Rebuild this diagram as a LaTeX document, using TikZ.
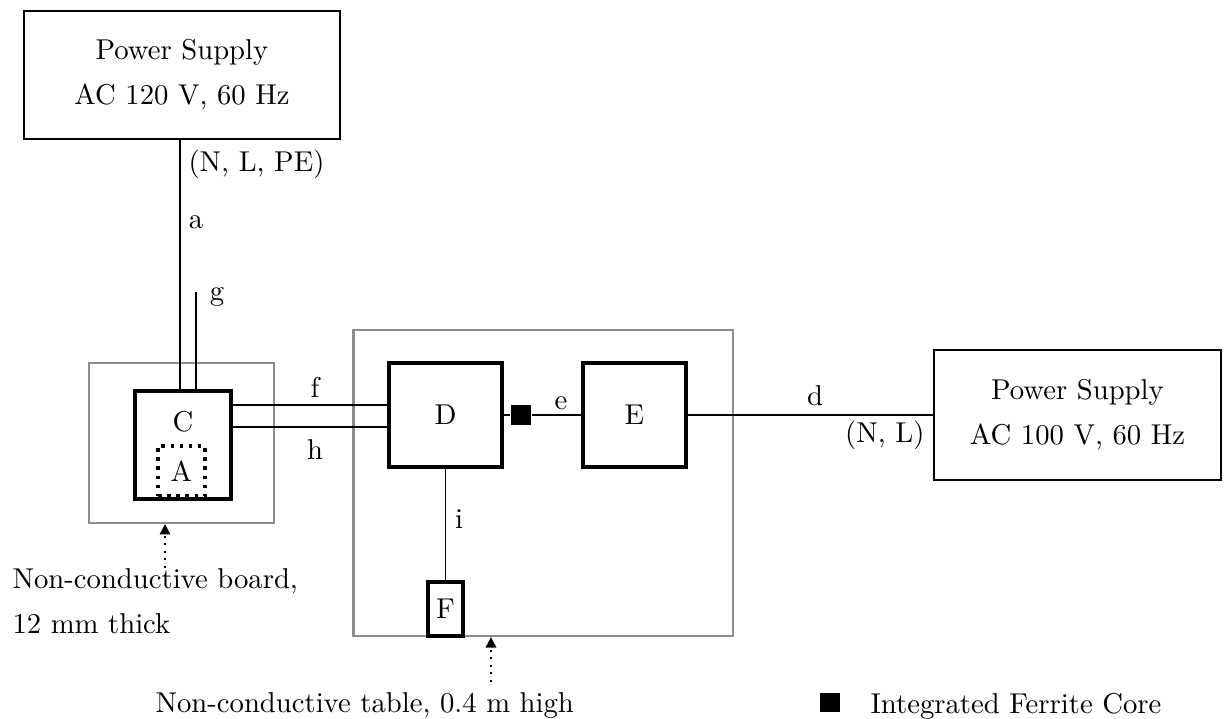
\documentclass[tikz,border=0pt]{standalone}
\usepackage{xcolor}
\usepackage{tikz}
\usetikzlibrary{positioning, arrows.meta, calc}
\definecolor{boardgray}{HTML}{8C8C8C}
\tikzset{
  supply/.style={
    draw, 
    line width=0.7pt,
    align=center,
    font=\fontsize{10.2}{16}\selectfont,
    inner sep=0pt
  },
  unit/.style={
    draw, 
    line width=1.25pt,
    font=\fontsize{10.2}{12}\selectfont,
    inner sep=0pt
  },
  support/.style={draw=boardgray, line width=0.75pt, inner sep=0pt},
  cable/.style={line width=0.7pt},
  ferrite/.style={fill=black, minimum size=0.25cm, inner sep=0pt},
  lbl/.style={font=\fontsize{10.2}{16}\selectfont, inner sep=0pt, anchor=base},
  pointer/.style={-{Triangle[length=1.3mm, width=1.3mm]}, dotted, line width=0.7pt}
}

\begin{document}
\begin{tikzpicture}[x=0.0125cm, y=-0.0125cm]
  \useasboundingbox (0,0) rectangle (1224,718);

  % boards under the equipment
  \node[support, minimum width=2.3125cm, minimum height=2cm] (board) at (181.5,443) {};
  \node[support, minimum width=4.7375cm, minimum height=3.825cm] (table) at (543,483) {};

  % supplies
  \node[supply, minimum width=3.95cm, minimum height=1.6cm] (psA) at (182,75) {Power Supply\\AC 120 V, 60 Hz};
  \node[supply, minimum width=3.5875cm, minimum height=1.625cm] (psB) at (1077.5,415) {Power Supply\\AC 100 V, 60 Hz};

  % units
  \node[unit, minimum width=1.2cm, minimum height=1.35cm] (C) at (183,445) {};
  \node[lbl] (lC) at (183,431) {C};
  \node[unit, dotted, minimum width=0.5875cm, minimum height=0.625cm] (A) at (181.5,471) {A};
  \node[unit, minimum width=1.4125cm, minimum height=1.3cm] (D) at (445.5,415) {D};
  \node[unit, minimum width=1.2875cm, minimum height=1.3cm] (E) at (634.5,415) {E};
  \node[unit, minimum width=0.4375cm, minimum height=0.675cm] (F) at (445.5,609) {F};
  \node[ferrite] (core) at (521,415) {};

  % cables
  \coordinate (aBot) at ($(C.north)+(-3,0)$);
  \coordinate (gTop) at (196,292);
  \coordinate (fL) at ($(C.east)+(0,-40)$);
  \coordinate (hL) at ($(C.east)+(0,-18)$);
  \draw[cable] (aBot) -- (aBot |- psA.south);
  \draw[cable] (gTop) -- (gTop |- C.north);
  \draw[cable] (fL) -- (fL -| D.west);
  \draw[cable] (hL) -- (hL -| D.west);
  \draw[cable] (D.east) -- (core) -- (E.west);
  \draw[cable] (E.east) -- (psB.west);
  \draw[cable] (D.south) -- (F.north);

  \node[lbl, anchor=base west] (nlpe) at (188,171) {(N, L, PE)};
  \node[lbl] (la) at (196,228) {a};
  \node[lbl] (lg) at (217,300) {g};
  \node[lbl] (lf) at (315,397) {f};
  \node[lbl] (lh) at (315,459) {h};
  \node[lbl] (le) at (561,409) {e};
  \node[lbl] (ld) at (815,405) {d};
  \node[lbl, anchor=base east] (nl) at (925,442) {(N, L)};
  \node[lbl] (li) at (459,528) {i};

  % notes
  \coordinate (bp) at (165,568);
  \coordinate (tp) at (491,682);
  \draw[pointer] (bp) -- (bp |- board.south);
  \draw[pointer] (tp) -- (tp |- table.south);
  \node[lbl, anchor=base west, align=left] (boardnote) at (12,633) {Non-conductive board,\\12 mm thick};
  \node[lbl, anchor=base west] (tablenote) at (155,712) {Non-conductive table, 0.4 m high};

  % legend
  \node[ferrite, minimum size=0.24cm] (key) at (830,702.5) {};
  \node[lbl, anchor=base west] (keytext) at (870,713) {Integrated Ferrite Core};
\end{tikzpicture}
\end{document}
